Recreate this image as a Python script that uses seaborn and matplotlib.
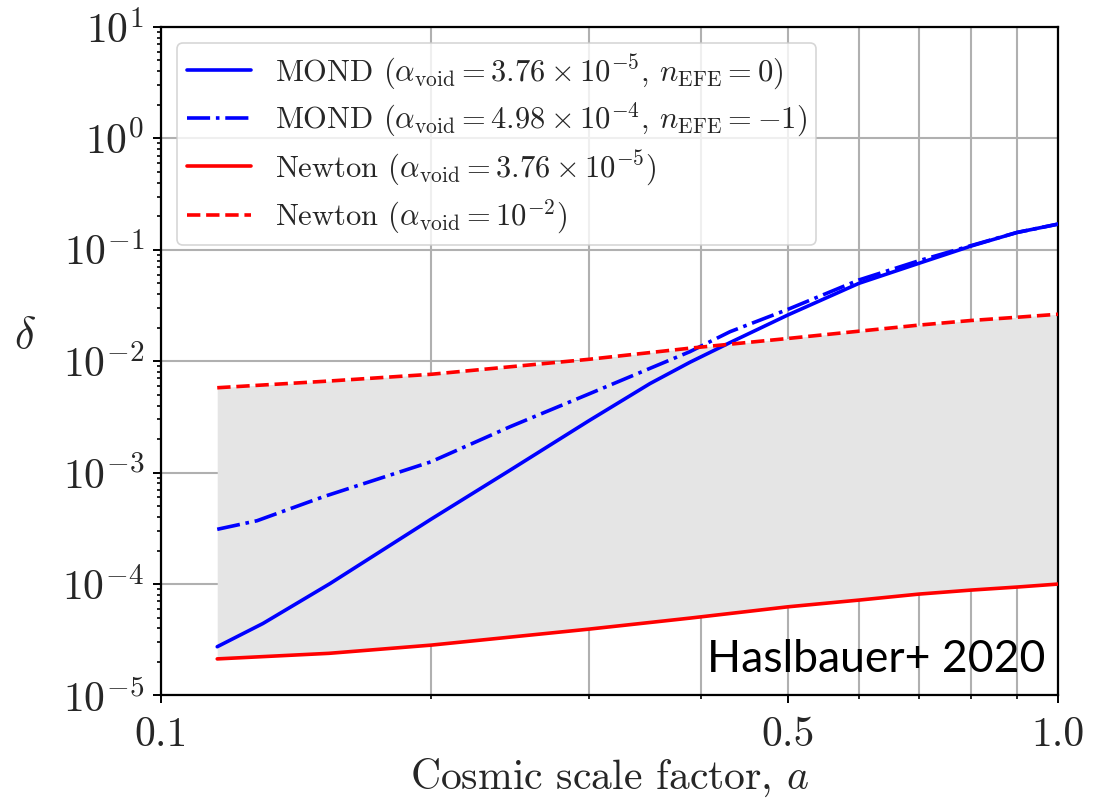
import numpy as np
import pandas as pd
import matplotlib
matplotlib.use("Agg")
import matplotlib.pyplot as plt
import seaborn as sns
from matplotlib.ticker import FixedLocator, FixedFormatter, NullFormatter, LogLocator

# ---- data ----
a_newton = [0.1156, 0.154, 0.2, 0.3, 0.389, 0.5, 0.6, 0.7, 0.8, 0.9, 1.0]
newton_low = [2.13e-5, 2.39e-5, 2.83e-5, 3.94e-5, 4.95e-5, 6.25e-5, 7.18e-5,
              8.13e-5, 8.83e-5, 9.4e-5, 1.0e-4]
newton_high = [5.78e-3, 6.64e-3, 7.63e-3, 1.04e-2, 1.31e-2, 1.60e-2, 1.86e-2,
               2.11e-2, 2.32e-2, 2.48e-2, 2.64e-2]

a_mond0 = [0.1156, 0.130, 0.1544, 0.2, 0.245, 0.3, 0.351, 0.389, 0.431, 0.5,
           0.6, 0.7, 0.8, 0.9, 1.0]
mond0 = [2.74e-5, 4.43e-5, 1.01e-4, 3.81e-4, 1.05e-3, 2.92e-3, 6.3e-3, 9.8e-3,
         1.47e-2, 2.6e-2, 5.0e-2, 7.57e-2, 1.08e-1, 1.43e-1, 1.70e-1]

a_mond1 = [0.1156, 0.128, 0.1518, 0.2, 0.245, 0.3, 0.351, 0.389, 0.431, 0.5,
           0.6, 0.7, 0.8, 0.9, 1.0]
mond1 = [3.1e-4, 3.70e-4, 6.08e-4, 1.25e-3, 2.58e-3, 5.08e-3, 8.63e-3, 1.22e-2,
         1.84e-2, 2.92e-2, 5.36e-2, 7.98e-2, 1.09e-1, 1.43e-1, 1.70e-1]

labels = [
    r'MOND ($\alpha_{\rm void} = 3.76 \times 10^{-5}$, $n_{\rm EFE} = 0$)',
    r'MOND ($\alpha_{\rm void} = 4.98 \times 10^{-4}$, $n_{\rm EFE} = -1$)',
    r'Newton ($\alpha_{\rm void} = 3.76 \times 10^{-5}$)',
    r'Newton ($\alpha_{\rm void} = 10^{-2}$)',
]
x_ticks = [0.1, 0.5, 1.0]
x_ticklabels = ['0.1', '0.5', '1.0']
x_minor = [0.2, 0.3, 0.4, 0.6, 0.7, 0.8, 0.9]
y_ticks = [1e-5, 1e-4, 1e-3, 1e-2, 1e-1, 1e0, 1e1]
y_ticklabels = [r'$10^{-5}$', r'$10^{-4}$', r'$10^{-3}$', r'$10^{-2}$',
                r'$10^{-1}$', r'$10^{0}$', r'$10^{1}$']

# ---- style ----
sns.set_style("white")
plt.rcParams['font.family'] = 'serif'
plt.rcParams['font.serif'] = ['cmr10', 'DejaVu Serif']
plt.rcParams['mathtext.fontset'] = 'cm'
plt.rcParams['axes.unicode_minus'] = False
plt.rcParams['axes.formatter.use_mathtext'] = True

fig = plt.figure(figsize=(11.04, 8.02), dpi=100)
ax = fig.add_axes([0.1456, 0.1328, 0.8127, 0.8336])

ax.set_xscale('log')
ax.set_yscale('log')

ax.fill_between(a_newton, newton_low, newton_high, color='#e5e5e5', zorder=1, lw=0)

df0 = pd.DataFrame({'a': a_mond0, 'd': mond0})
df1 = pd.DataFrame({'a': a_mond1, 'd': mond1})
dfl = pd.DataFrame({'a': a_newton, 'd': newton_low})
dfh = pd.DataFrame({'a': a_newton, 'd': newton_high})

lw = 2.6
sns.lineplot(data=df0, x='a', y='d', ax=ax, color='#0000ff', lw=lw,
             estimator=None, sort=False, label=labels[0], zorder=3)
sns.lineplot(data=df1, x='a', y='d', ax=ax, color='#0000ff', lw=lw,
             estimator=None, sort=False, label=labels[1], zorder=3,
             linestyle='-.')
sns.lineplot(data=dfl, x='a', y='d', ax=ax, color='#ff0000', lw=lw,
             estimator=None, sort=False, label=labels[2], zorder=3)
sns.lineplot(data=dfh, x='a', y='d', ax=ax, color='#ff0000', lw=lw,
             estimator=None, sort=False, label=labels[3], zorder=3,
             linestyle='--')

ax.set_xlim(0.1, 1.0)
ax.set_ylim(1e-5, 1e1)

ax.xaxis.set_major_locator(FixedLocator(x_ticks))
ax.xaxis.set_major_formatter(FixedFormatter(x_ticklabels))
ax.xaxis.set_minor_locator(FixedLocator(x_minor))
ax.xaxis.set_minor_formatter(NullFormatter())
ax.yaxis.set_major_locator(FixedLocator(y_ticks))
ax.yaxis.set_major_formatter(FixedFormatter(y_ticklabels))
ax.yaxis.set_minor_locator(LogLocator(base=10, subs=np.arange(2, 10), numticks=20))
ax.yaxis.set_minor_formatter(NullFormatter())

ax.tick_params(which='major', direction='out', length=6, width=1.4,
               labelsize=30, color='black', pad=6, bottom=True, left=True)
ax.tick_params(which='minor', direction='out', length=3, width=1.2,
               color='black', bottom=True, left=True)
ax.tick_params(axis='x', which='major', pad=9)

ax.grid(True, which='both', axis='x', color='#b0b0b0', lw=1.5)
ax.grid(True, which='major', axis='y', color='#b0b0b0', lw=1.5)
ax.grid(False, which='minor', axis='y')

for s in ax.spines.values():
    s.set_visible(True)
    s.set_color('black')
    s.set_linewidth(1.6)

ax.set_xlabel(r'Cosmic scale factor, $a$', fontsize=30, labelpad=2)
ax.set_ylabel(r'$\delta$', fontsize=32, rotation=0)
ax.yaxis.label.set_va('center')
ax.yaxis.label.set_ha('center')
ax.yaxis.set_label_coords(-0.151, 0.536)

leg = ax.legend(loc='upper left', bbox_to_anchor=(0.0185, 0.9765),
                borderaxespad=0, fontsize=22, handlelength=2.1,
                handletextpad=0.8, labelspacing=0.3, borderpad=0.3,
                framealpha=0.8, edgecolor='#cccccc', fancybox=True)
leg.get_frame().set_linewidth(1.2)

ax.text(0.9855, 0.035, 'Haslbauer+ 2020', transform=ax.transAxes,
        ha='right', va='baseline', fontsize=32, family=['Lato', 'DejaVu Sans'],
        color='black', zorder=5)

fig.savefig('out.png', dpi=100)
